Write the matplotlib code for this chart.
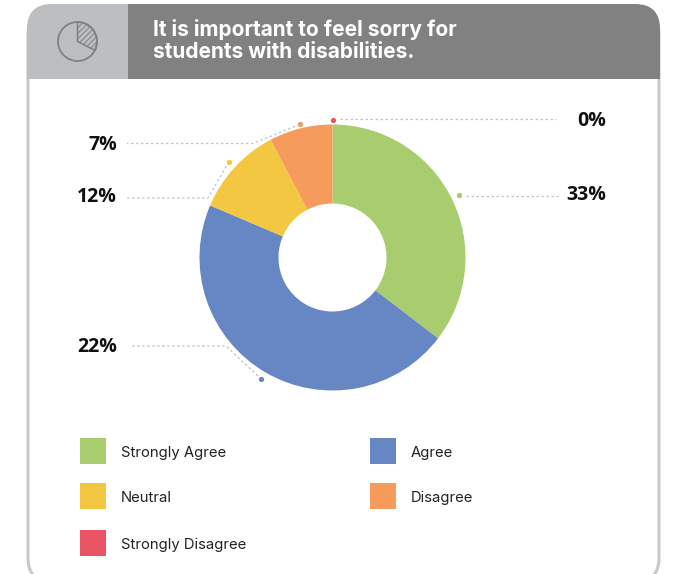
import numpy as np
import matplotlib
matplotlib.use('Agg')
import matplotlib.pyplot as plt
from matplotlib.patches import FancyBboxPatch, Rectangle, Circle, Wedge

# slice sizes as drawn, the printed labels do not add up to 100
categories = ['Strongly Agree', 'Agree', 'Neutral', 'Disagree', 'Strongly Disagree']
shares = [35.4, 46.0, 10.9, 7.7, 0.0]
labels = ['33%', '22%', '12%', '7%', '0%']
colors = ['#a9cc6f', '#6786c4', '#f4c743', '#f59b5c', '#ea5565']
title = 'It is important to feel sorry for\nstudents with disabilities.'

W, H = 674, 574
cx, cy, r_out, r_in = 332.5, 257.5, 133, 54

plt.rcParams['hatch.linewidth'] = 0.7

fig = plt.figure(figsize=(W / 100, H / 100), dpi=100)
bg = fig.add_axes([0, 0, 1, 1])
bg.set_xlim(0, W)
bg.set_ylim(H, 0)
bg.axis('off')

# card and header
card = FancyBboxPatch((28, 10), 631, 572, boxstyle='round,pad=0,rounding_size=24',
                      fc='white', ec='#c9c9c9', lw=2.2, zorder=1)
bg.add_patch(card)
head_clip = FancyBboxPatch((27, 4), 633, 120, boxstyle='round,pad=0,rounding_size=25',
                           fc='none', ec='none', transform=bg.transData)
bg.add_patch(head_clip)
for x0, x1, col in [(27, 128, '#bdbec0'), (128, 660, '#808180')]:
    rect = Rectangle((x0, 4), x1 - x0, 75, fc=col, ec='none', zorder=2)
    bg.add_patch(rect)
    rect.set_clip_path(head_clip)

# pie icon in header
bg.add_patch(Wedge((77.5, 41.5), 19.5, -90, 27, fc='none', ec='#808180', lw=0,
                   hatch='//////', zorder=3))
bg.add_patch(Wedge((77.5, 41.5), 19.5, -90, 27, fc='none', ec='#808180', lw=1.1, zorder=4))
bg.add_patch(Circle((77.5, 41.5), 19.5, fc='none', ec='#808180', lw=1.3, zorder=4))

bg.text(153, 29.5, title.split('\n')[0], color='white', fontsize=15.05, fontfamily='Inter',
        fontweight='bold', ha='left', va='center', zorder=5)
bg.text(153, 52.5, title.split('\n')[1], color='white', fontsize=15.05, fontfamily='Inter',
        fontweight='bold', ha='left', va='center', zorder=5)

# donut
pie_ax = fig.add_axes([(cx - r_out) / W, 1 - (cy + r_out) / H, 2 * r_out / W, 2 * r_out / H])
pie_ax.pie(shares, colors=colors, startangle=90, counterclock=False, radius=1,
           wedgeprops=dict(width=1 - r_in / r_out, edgecolor='none', linewidth=0))
pie_ax.set_xlim(-1, 1)
pie_ax.set_ylim(-1, 1)

# leader lines start at a dot just outside the middle of each slice
dot_r = [141, 141, 141, 137, 138]
elbow_x = [None, 226, 208, 253, None]
line_y = [196, 346, 198, 143.5, 119]
line_end = [558, 130, 127, 127, 556]
text_x = [606, 117, 117, 117, 606]
text_y = [195, 346.5, 197.5, 144.5, 120.5]
edges = np.cumsum([0] + shares) / 100 * 2 * np.pi
for i in range(len(shares)):
    mid = (edges[i] + edges[i + 1]) / 2
    dx = cx + dot_r[i] * np.sin(mid)
    dy = cy - dot_r[i] * np.cos(mid)
    bg.plot(dx, dy, 'o', ms=3.8, color=colors[i], mec='none', zorder=6)
    if elbow_x[i] is None:
        xs = [dx + 7, line_end[i]]
        ys = [line_y[i], line_y[i]]
    else:
        xs = [dx, elbow_x[i], line_end[i]]
        ys = [dy, line_y[i], line_y[i]]
    bg.plot(xs, ys, color='#c2c2c2', lw=0.9, ls=(0, (2, 2)), zorder=5)
    bg.text(text_x[i], text_y[i], labels[i], ha='right', va='center', fontsize=14,
            fontfamily='Open Sans', fontweight='bold', color='#111111', zorder=6)

# legend
leg_x = [80, 370, 80, 370, 80]
leg_y = [438, 438, 483, 483, 530]
for i, name in enumerate(categories):
    bg.add_patch(Rectangle((leg_x[i], leg_y[i]), 26, 26, fc=colors[i], ec='none', zorder=3))
    bg.text(leg_x[i] + 41, leg_y[i] + 15, name, ha='left', va='center', fontsize=10.7,
            fontfamily='Inter', color='#222222', zorder=3)

fig.savefig('out.png', dpi=100)
